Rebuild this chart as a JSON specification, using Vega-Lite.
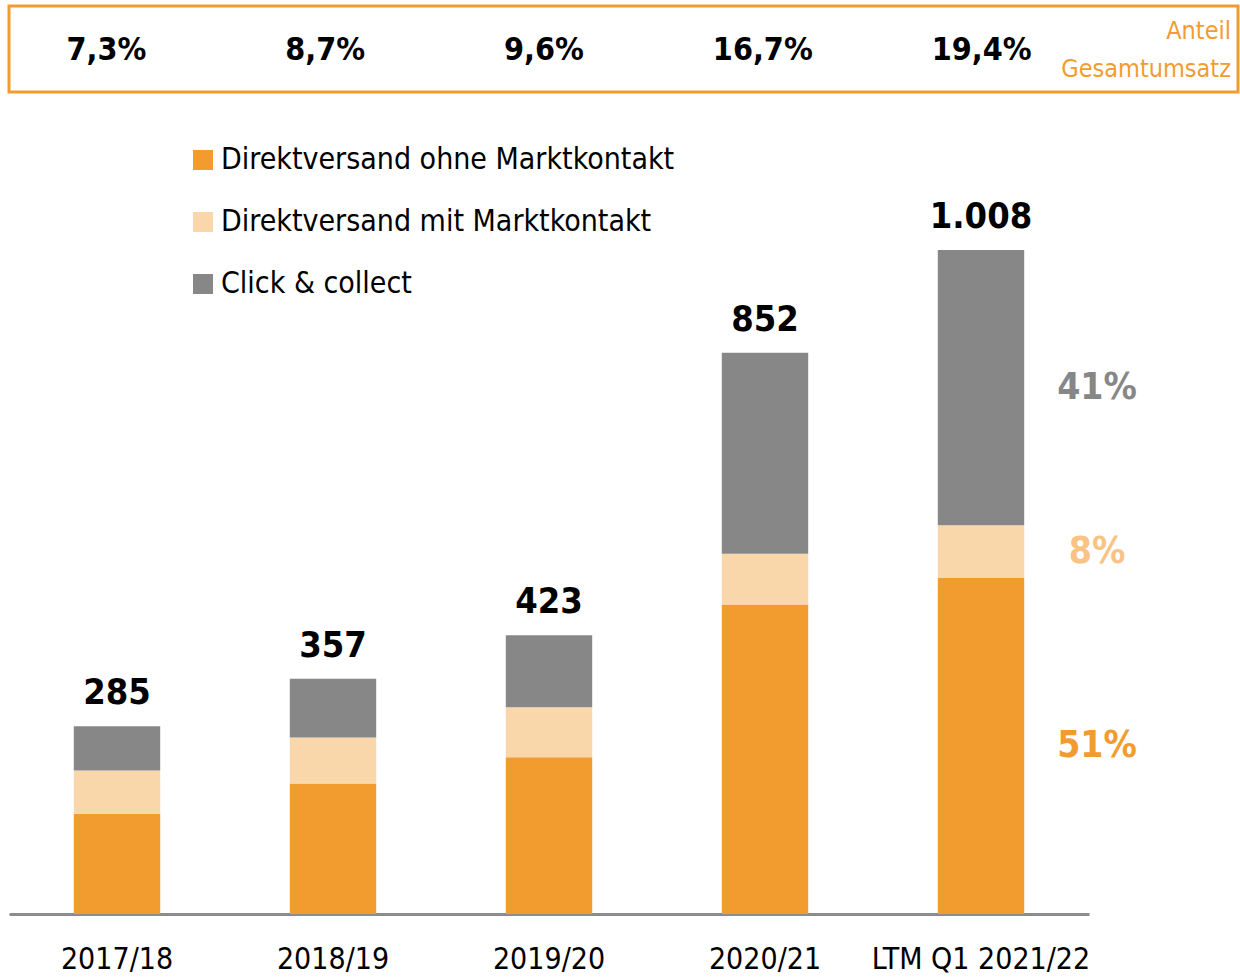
{
  "$schema": "https://vega.github.io/schema/vega-lite/v6.json",
  "padding": {"left": 7, "top": 4, "right": 0, "bottom": 0},
  "background": "white",
  "config": {
    "locale": {"number": {"decimal": ",", "thousands": ".", "grouping": [3], "currency": ["", " €"]}},
    "font": "DejaVu Sans Condensed",
    "concat": {"spacing": 18},
    "view": {"stroke": null}
  },
  "datasets": {
    "sales": [
      {"period": "2017/18", "segment": "Direktversand ohne Marktkontakt", "rank": 1, "value": 152},
      {"period": "2017/18", "segment": "Direktversand mit Marktkontakt", "rank": 2, "value": 66},
      {"period": "2017/18", "segment": "Click & collect", "rank": 3, "value": 67},
      {"period": "2018/19", "segment": "Direktversand ohne Marktkontakt", "rank": 1, "value": 198},
      {"period": "2018/19", "segment": "Direktversand mit Marktkontakt", "rank": 2, "value": 70},
      {"period": "2018/19", "segment": "Click & collect", "rank": 3, "value": 89},
      {"period": "2019/20", "segment": "Direktversand ohne Marktkontakt", "rank": 1, "value": 238},
      {"period": "2019/20", "segment": "Direktversand mit Marktkontakt", "rank": 2, "value": 76},
      {"period": "2019/20", "segment": "Click & collect", "rank": 3, "value": 109},
      {"period": "2020/21", "segment": "Direktversand ohne Marktkontakt", "rank": 1, "value": 470},
      {"period": "2020/21", "segment": "Direktversand mit Marktkontakt", "rank": 2, "value": 77},
      {"period": "2020/21", "segment": "Click & collect", "rank": 3, "value": 305},
      {"period": "LTM Q1 2021/22", "segment": "Direktversand ohne Marktkontakt", "rank": 1, "value": 510, "share": 0.51},
      {"period": "LTM Q1 2021/22", "segment": "Direktversand mit Marktkontakt", "rank": 2, "value": 80, "share": 0.08},
      {"period": "LTM Q1 2021/22", "segment": "Click & collect", "rank": 3, "value": 418, "share": 0.41}
    ],
    "shares": [
      {"period": "2017/18", "share": 0.073},
      {"period": "2018/19", "share": 0.087},
      {"period": "2019/20", "share": 0.096},
      {"period": "2020/21", "share": 0.167},
      {"period": "LTM Q1 2021/22", "share": 0.194}
    ]
  },
  "vconcat": [
    {
      "width": 1229,
      "height": 86,
      "view": {"stroke": "#F29C2F", "strokeWidth": 3},
      "layer": [
        {
          "data": {"name": "shares"},
          "mark": {"type": "text", "fontSize": 32, "fontWeight": "bold", "baseline": "middle", "color": "#000000", "dy": 1},
          "encoding": {
            "x": {"field": "period", "type": "nominal", "sort": null, "axis": null,
                  "scale": {"range": [-12, 1082], "paddingInner": 0, "paddingOuter": 0}},
            "text": {"field": "share", "type": "quantitative", "format": ".1%"}
          }
        },
        {
          "data": {"values": [{"label": "Anteil Gesamtumsatz"}]},
          "mark": {"type": "text", "text": ["Anteil", "Gesamtumsatz"], "fontSize": 25, "lineHeight": 38,
                   "align": "right", "baseline": "middle", "color": "#F29C2F", "dx": -7, "dy": -18},
          "encoding": {"x": {"value": "width"}}
        }
      ]
    },
    {
      "width": 1080,
      "height": 802,
      "data": {"name": "sales"},
      "encoding": {
        "x": {"field": "period", "type": "nominal", "sort": null,
              "scale": {"paddingInner": 0.6, "paddingOuter": 0.3},
              "axis": {"title": null, "labelAngle": 0, "labelFontSize": 30, "labelColor": "#000000", "labelLimit": 400,
                       "ticks": false, "domainColor": "#8C8C8C", "domainWidth": 3, "labelPadding": 30}}
      },
      "layer": [
        {
          "mark": {"type": "bar"},
          "encoding": {
            "y": {"field": "value", "type": "quantitative", "stack": "zero",
                  "scale": {"domain": [0, 1217.5], "nice": false}, "axis": null},
            "color": {"field": "segment", "type": "nominal",
                      "scale": {"domain": ["Direktversand ohne Marktkontakt", "Direktversand mit Marktkontakt", "Click & collect"],
                                "range": ["#F29C2F", "#F9D7AA", "#878787"]},
                      "legend": {"title": null, "orient": "none", "legendX": 179, "legendY": 33, "padding": 0,
                                 "symbolType": "square", "symbolSize": 400, "symbolStrokeWidth": 0,
                                 "labelFontSize": 30, "labelColor": "#000000", "labelOffset": 3, "rowPadding": 32,
                                 "labelLimit": 600}},
            "order": {"field": "rank", "type": "quantitative"}
          }
        },
        {
          "mark": {"type": "text", "fontSize": 36, "fontWeight": "bold", "baseline": "alphabetic", "dy": -22, "color": "#000000"},
          "encoding": {
            "y": {"aggregate": "sum", "field": "value", "type": "quantitative"},
            "text": {"aggregate": "sum", "field": "value", "type": "quantitative", "format": ",.0f"}
          }
        },
        {
          "transform": [
            {"filter": "datum.period === 'LTM Q1 2021/22'"},
            {"stack": "value", "groupby": ["period"], "sort": [{"field": "rank", "order": "ascending"}], "as": ["y0", "y1"]},
            {"fold": ["y0", "y1"], "as": ["edge", "pos"]},
            {"aggregate": [{"op": "mean", "field": "pos", "as": "mid"}], "groupby": ["period", "segment", "share"]}
          ],
          "mark": {"type": "text", "fontSize": 37, "fontWeight": "bold", "baseline": "middle", "align": "center", "dx": 116},
          "encoding": {
            "y": {"field": "mid", "type": "quantitative"},
            "text": {"field": "share", "type": "quantitative", "format": ".0%"},
            "color": {"field": "segment", "type": "nominal",
                      "scale": {"domain": ["Direktversand ohne Marktkontakt", "Direktversand mit Marktkontakt", "Click & collect"],
                                "range": ["#F29C2F", "#F8C384", "#878787"]},
                      "legend": null}
          }
        }
      ],
      "resolve": {"scale": {"color": "independent"}}
    }
  ]
}
